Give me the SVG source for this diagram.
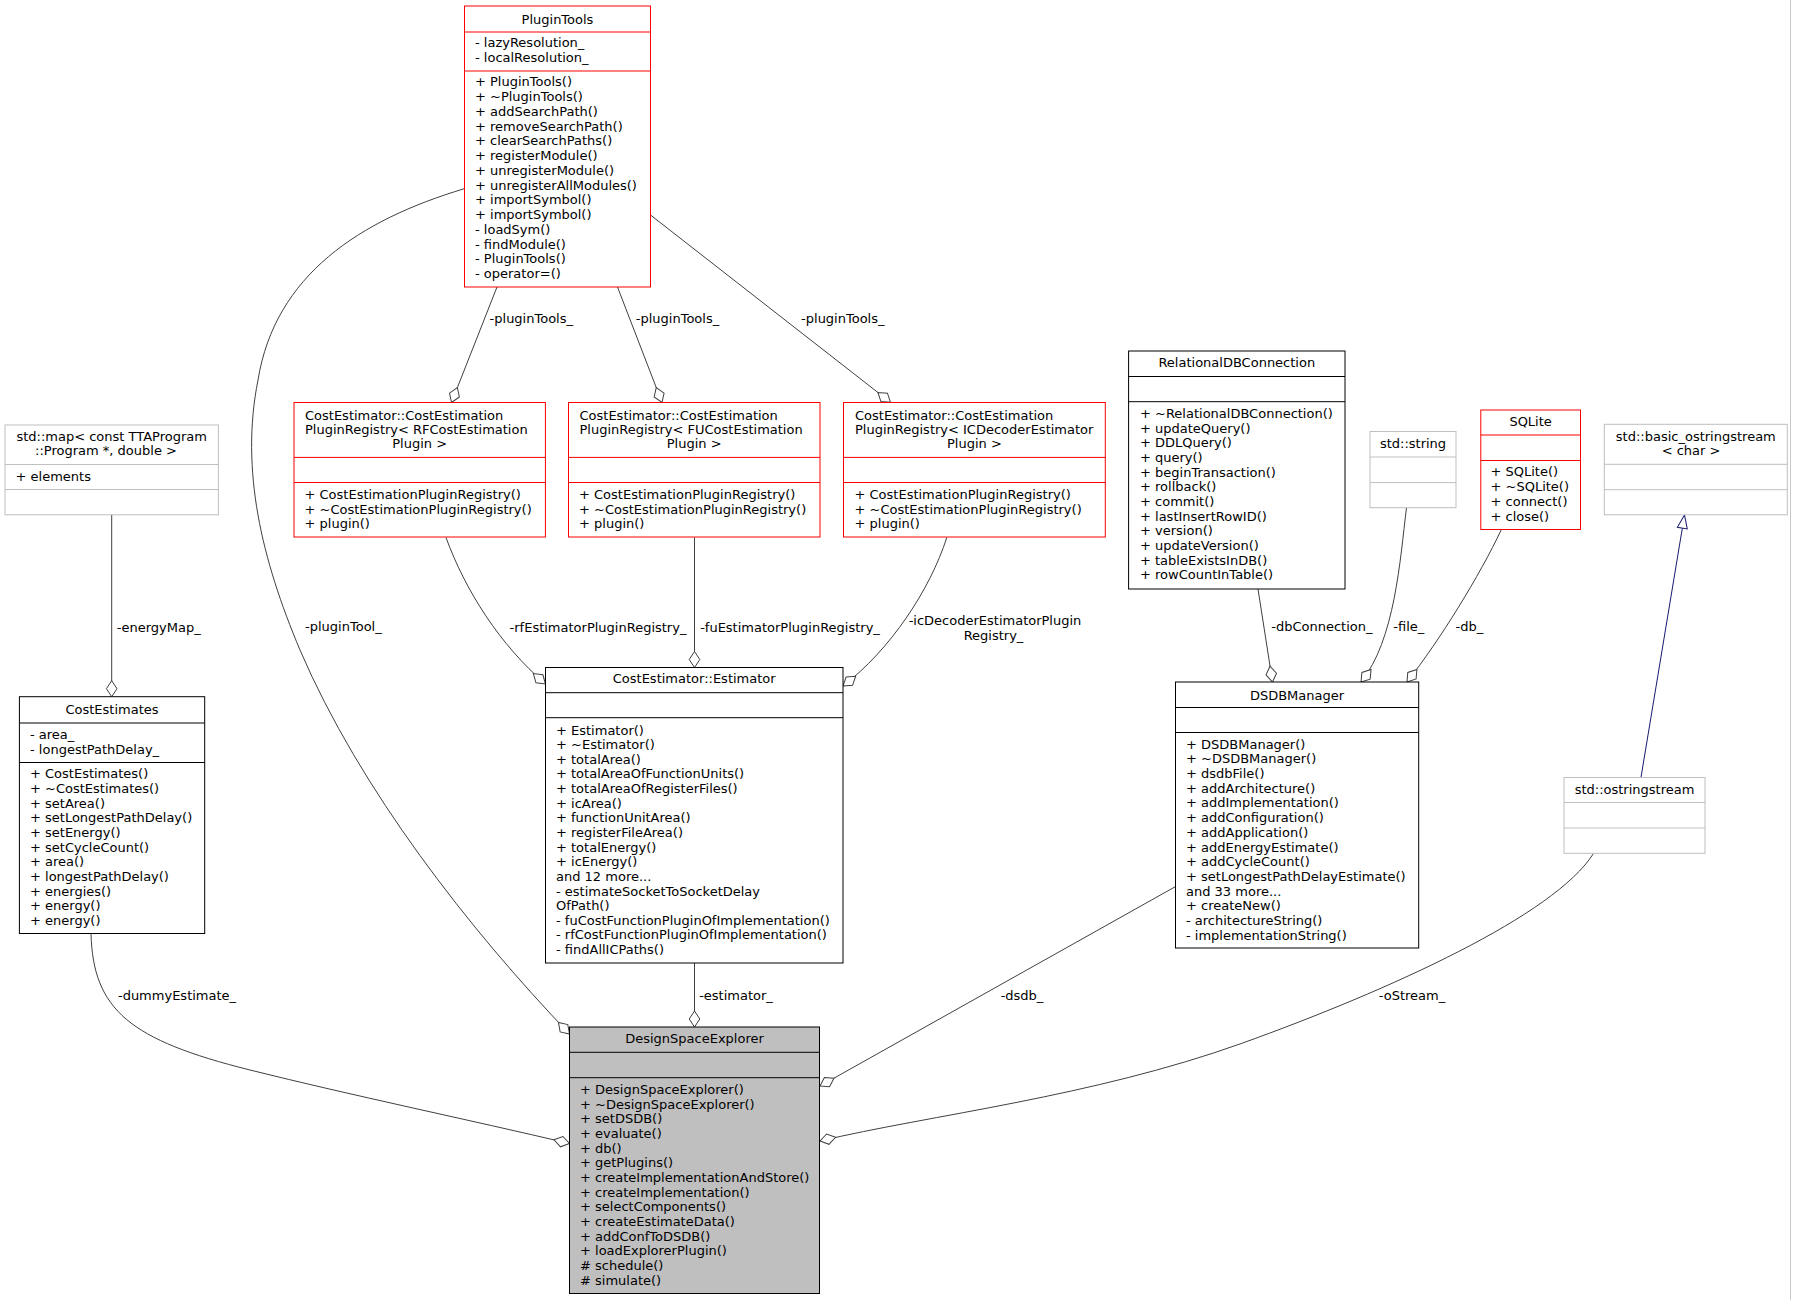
<svg xmlns="http://www.w3.org/2000/svg" width="1793" height="1300" viewBox="0 0 1793 1300">
<style>
text{font-family:"DejaVu Sans","Liberation Sans",sans-serif;font-size:13px;fill:#000}
.c{text-anchor:middle}
.b{fill:#fff;stroke:#000;stroke-width:1}
.r{stroke:#ff0000}
.g{stroke:#bfbfbf}
.d{fill:#bfbfbf}
.sk{stroke:#000;stroke-width:1}
.sr{stroke:#ff0000;stroke-width:1}
.sg{stroke:#bfbfbf;stroke-width:1}
.e{fill:none;stroke:#404040;stroke-width:1}
.i{fill:none;stroke:#191970;stroke-width:1}
</style>
<defs>
<marker id="dia" markerUnits="userSpaceOnUse" markerWidth="20" markerHeight="14" viewBox="-17 -7 18 14" refX="0" refY="0" orient="auto">
<path d="M0,0 L-8,-5.3 L-16,0 L-8,5.3 Z" fill="#fff" stroke="#404040" stroke-width="1"/>
</marker>
<marker id="tri" markerUnits="userSpaceOnUse" markerWidth="16" markerHeight="14" viewBox="-15 -7 16 14" refX="0" refY="0" orient="auto">
<path d="M0,0 L-13.3,-5 L-13.3,5 Z" fill="#fff" stroke="#191970" stroke-width="1"/>
</marker>
</defs>
<rect width="1793" height="1300" fill="#fff"/>
<line x1="1790.5" y1="0" x2="1790.5" y2="1300" stroke="#c8c8c8" stroke-width="1"/>

<g id="connectors">
<path class="e" d="M464.3,188.7 C360,220 275,275 258,380 C240,470 262,560 300,650 C360,790 470,930 569.5,1034" marker-end="url(#dia)"/>
<path class="e" d="M497,287 L451.5,402.5" marker-end="url(#dia)"/>
<path class="e" d="M617.5,287 L662,402.5" marker-end="url(#dia)"/>
<path class="e" d="M650.5,215 L890.5,402.3" marker-end="url(#dia)"/>
<path class="e" d="M446,537.5 C465,590 500,645 545.5,684" marker-end="url(#dia)"/>
<path class="e" d="M694.5,537.5 L694.5,667.5" marker-end="url(#dia)"/>
<path class="e" d="M946.8,537.5 C930,590 890,650 843,686" marker-end="url(#dia)"/>
<path class="e" d="M111.7,514.8 L111.7,696.7" marker-end="url(#dia)"/>
<path class="e" d="M1258,589 L1272.5,682" marker-end="url(#dia)"/>
<path class="e" d="M1406.5,507.7 C1400,560 1395,640 1361,682" marker-end="url(#dia)"/>
<path class="e" d="M1501.4,529.5 C1480,575 1440,640 1407,682" marker-end="url(#dia)"/>
<path class="i" d="M1641,777.3 L1684.5,515" marker-end="url(#tri)"/>
<path class="e" d="M91,933.5 C93,1010 130,1040 250,1070 C350,1095 470,1120 569.5,1143.5" marker-end="url(#dia)"/>
<path class="e" d="M694.5,963 L694.5,1027" marker-end="url(#dia)"/>
<path class="e" d="M1176.5,886 L820,1086" marker-end="url(#dia)"/>
<path class="e" d="M1593.6,853.3 C1555,915 1390,990 1241.9,1043.3 C1092,1097 930,1115 820,1141" marker-end="url(#dia)"/>
<text class="c" x="531.3" y="322.6">-pluginTools_</text>
<text class="c" x="677.5" y="322.6">-pluginTools_</text>
<text class="c" x="842.8" y="322.6">-pluginTools_</text>
<text class="c" x="343.4" y="631">-pluginTool_</text>
<text class="c" x="158.8" y="631.6">-energyMap_</text>
<text class="c" x="598" y="631.9">-rfEstimatorPluginRegistry_</text>
<text class="c" x="790" y="631.9">-fuEstimatorPluginRegistry_</text>
<text class="c" x="995" y="624.6">-icDecoderEstimatorPlugin</text>
<text class="c" x="993.5" y="639.6">Registry_</text>
<text class="c" x="1321.9" y="631.2">-dbConnection_</text>
<text class="c" x="1408.8" y="631.2">-file_</text>
<text class="c" x="1469.4" y="631.2">-db_</text>
<text class="c" x="177" y="999.6">-dummyEstimate_</text>
<text class="c" x="736" y="999.6">-estimator_</text>
<text class="c" x="1022" y="999.6">-dsdb_</text>
<text class="c" x="1412" y="999.6">-oStream_</text>
</g>

<g id="PluginTools">
<rect class="b r" x="464.5" y="6" width="186" height="281"/>
<line class="sr" x1="464.5" y1="32" x2="650.5" y2="32"/>
<line class="sr" x1="464.5" y1="71" x2="650.5" y2="71"/>
<text class="c" x="557.5" y="23.5">PluginTools</text>
<text x="475" y="47.3">- lazyResolution_</text>
<text x="475" y="62">- localResolution_</text>
<text x="475" y="86.3">+ PluginTools()<tspan x="475" dy="14.75">+ ~PluginTools()</tspan><tspan x="475" dy="14.75">+ addSearchPath()</tspan><tspan x="475" dy="14.75">+ removeSearchPath()</tspan><tspan x="475" dy="14.75">+ clearSearchPaths()</tspan><tspan x="475" dy="14.75">+ registerModule()</tspan><tspan x="475" dy="14.75">+ unregisterModule()</tspan><tspan x="475" dy="14.75">+ unregisterAllModules()</tspan><tspan x="475" dy="14.75">+ importSymbol()</tspan><tspan x="475" dy="14.75">+ importSymbol()</tspan><tspan x="475" dy="14.75">- loadSym()</tspan><tspan x="475" dy="14.75">- findModule()</tspan><tspan x="475" dy="14.75">- PluginTools()</tspan><tspan x="475" dy="14.75">- operator=()</tspan></text>
</g>

<g id="StdMap">
<rect class="b g" x="5" y="425" width="213.4" height="89.8"/>
<line class="sg" x1="5" y1="464.5" x2="218.4" y2="464.5"/>
<line class="sg" x1="5" y1="489.5" x2="218.4" y2="489.5"/>
<text class="c" x="111.7" y="440.5">std::map&lt; const TTAProgram</text>
<text class="c" x="106" y="455">::Program *, double &gt;</text>
<text x="15.5" y="480.6">+ elements</text>
</g>

<g id="CostEstimates">
<rect class="b" x="19.4" y="696.7" width="185.3" height="236.8"/>
<line class="sk" x1="19.4" y1="723" x2="204.7" y2="723"/>
<line class="sk" x1="19.4" y1="762.5" x2="204.7" y2="762.5"/>
<text class="c" x="112" y="714">CostEstimates</text>
<text x="30" y="738.7">- area_</text>
<text x="30" y="754.3">- longestPathDelay_</text>
<text x="30" y="778.4">+ CostEstimates()<tspan x="30" dy="14.65">+ ~CostEstimates()</tspan><tspan x="30" dy="14.65">+ setArea()</tspan><tspan x="30" dy="14.65">+ setLongestPathDelay()</tspan><tspan x="30" dy="14.65">+ setEnergy()</tspan><tspan x="30" dy="14.65">+ setCycleCount()</tspan><tspan x="30" dy="14.65">+ area()</tspan><tspan x="30" dy="14.65">+ longestPathDelay()</tspan><tspan x="30" dy="14.65">+ energies()</tspan><tspan x="30" dy="14.65">+ energy()</tspan><tspan x="30" dy="14.65">+ energy()</tspan></text>
</g>

<g id="RFRegistry">
<rect class="b r" x="294" y="402.5" width="251.4" height="134.5"/>
<line class="sr" x1="294" y1="457.4" x2="545.4" y2="457.4"/>
<line class="sr" x1="294" y1="482.5" x2="545.4" y2="482.5"/>
<text x="305" y="419.5">CostEstimator::CostEstimation</text>
<text x="305" y="433.8">PluginRegistry&lt; RFCostEstimation</text>
<text class="c" x="419.7" y="448">Plugin &gt;</text>
<text x="304.5" y="499">+ CostEstimationPluginRegistry()<tspan x="304.5" dy="14.6">+ ~CostEstimationPluginRegistry()</tspan><tspan x="304.5" dy="14.6">+ plugin()</tspan></text>
</g>

<g id="FURegistry">
<rect class="b r" x="568.5" y="402.5" width="251.5" height="134.5"/>
<line class="sr" x1="568.5" y1="457.4" x2="820" y2="457.4"/>
<line class="sr" x1="568.5" y1="482.5" x2="820" y2="482.5"/>
<text x="579.5" y="419.5">CostEstimator::CostEstimation</text>
<text x="579.5" y="433.8">PluginRegistry&lt; FUCostEstimation</text>
<text class="c" x="694.2" y="448">Plugin &gt;</text>
<text x="579" y="499">+ CostEstimationPluginRegistry()<tspan x="579" dy="14.6">+ ~CostEstimationPluginRegistry()</tspan><tspan x="579" dy="14.6">+ plugin()</tspan></text>
</g>

<g id="ICRegistry">
<rect class="b r" x="843.5" y="402.5" width="261.8" height="134.5"/>
<line class="sr" x1="843.5" y1="457.4" x2="1105.3" y2="457.4"/>
<line class="sr" x1="843.5" y1="482.5" x2="1105.3" y2="482.5"/>
<text x="855" y="419.5">CostEstimator::CostEstimation</text>
<text x="855" y="433.8">PluginRegistry&lt; ICDecoderEstimator</text>
<text class="c" x="974.4" y="448">Plugin &gt;</text>
<text x="854.5" y="499">+ CostEstimationPluginRegistry()<tspan x="854.5" dy="14.6">+ ~CostEstimationPluginRegistry()</tspan><tspan x="854.5" dy="14.6">+ plugin()</tspan></text>
</g>

<g id="RelationalDBConnection">
<rect class="b" x="1128.6" y="351" width="216.4" height="238"/>
<line class="sk" x1="1128.6" y1="376.5" x2="1345" y2="376.5"/>
<line class="sk" x1="1128.6" y1="401.7" x2="1345" y2="401.7"/>
<text class="c" x="1236.8" y="367">RelationalDBConnection</text>
<text x="1140" y="418">+ ~RelationalDBConnection()<tspan x="1140" dy="14.67">+ updateQuery()</tspan><tspan x="1140" dy="14.67">+ DDLQuery()</tspan><tspan x="1140" dy="14.67">+ query()</tspan><tspan x="1140" dy="14.67">+ beginTransaction()</tspan><tspan x="1140" dy="14.67">+ rollback()</tspan><tspan x="1140" dy="14.67">+ commit()</tspan><tspan x="1140" dy="14.67">+ lastInsertRowID()</tspan><tspan x="1140" dy="14.67">+ version()</tspan><tspan x="1140" dy="14.67">+ updateVersion()</tspan><tspan x="1140" dy="14.67">+ tableExistsInDB()</tspan><tspan x="1140" dy="14.67">+ rowCountInTable()</tspan></text>
</g>

<g id="StdString">
<rect class="b g" x="1370" y="431.5" width="86" height="76.2"/>
<line class="sg" x1="1370" y1="457" x2="1456" y2="457"/>
<line class="sg" x1="1370" y1="482.6" x2="1456" y2="482.6"/>
<text class="c" x="1413" y="448">std::string</text>
</g>

<g id="SQLite">
<rect class="b r" x="1480.8" y="410" width="99.7" height="119.5"/>
<line class="sr" x1="1480.8" y1="435" x2="1580.5" y2="435"/>
<line class="sr" x1="1480.8" y1="460.5" x2="1580.5" y2="460.5"/>
<text class="c" x="1530.6" y="426.3">SQLite</text>
<text x="1490.5" y="476.3">+ SQLite()<tspan x="1490.5" dy="14.75">+ ~SQLite()</tspan><tspan x="1490.5" dy="14.75">+ connect()</tspan><tspan x="1490.5" dy="14.75">+ close()</tspan></text>
</g>

<g id="BasicOstringstream">
<rect class="b g" x="1604.3" y="424.3" width="183" height="90.5"/>
<line class="sg" x1="1604.3" y1="464.3" x2="1787.3" y2="464.3"/>
<line class="sg" x1="1604.3" y1="489.7" x2="1787.3" y2="489.7"/>
<text class="c" x="1695.8" y="440.6">std::basic_ostringstream</text>
<text class="c" x="1691" y="455.3">&lt; char &gt;</text>
</g>

<g id="Estimator">
<rect class="b" x="545.5" y="667.5" width="297.5" height="295.5"/>
<line class="sk" x1="545.5" y1="692.7" x2="843" y2="692.7"/>
<line class="sk" x1="545.5" y1="717.7" x2="843" y2="717.7"/>
<text class="c" x="694.2" y="683">CostEstimator::Estimator</text>
<text x="556" y="734.6">+ Estimator()<tspan x="556" dy="14.63">+ ~Estimator()</tspan><tspan x="556" dy="14.63">+ totalArea()</tspan><tspan x="556" dy="14.63">+ totalAreaOfFunctionUnits()</tspan><tspan x="556" dy="14.63">+ totalAreaOfRegisterFiles()</tspan><tspan x="556" dy="14.63">+ icArea()</tspan><tspan x="556" dy="14.63">+ functionUnitArea()</tspan><tspan x="556" dy="14.63">+ registerFileArea()</tspan><tspan x="556" dy="14.63">+ totalEnergy()</tspan><tspan x="556" dy="14.63">+ icEnergy()</tspan><tspan x="556" dy="14.63">and 12 more...</tspan><tspan x="556" dy="14.63">- estimateSocketToSocketDelay</tspan><tspan x="556" dy="14.63">OfPath()</tspan><tspan x="556" dy="14.63">- fuCostFunctionPluginOfImplementation()</tspan><tspan x="556" dy="14.63">- rfCostFunctionPluginOfImplementation()</tspan><tspan x="556" dy="14.63">- findAllICPaths()</tspan></text>
</g>

<g id="DSDBManager">
<rect class="b" x="1175.5" y="682" width="243.2" height="266"/>
<line class="sk" x1="1175.5" y1="707.5" x2="1418.7" y2="707.5"/>
<line class="sk" x1="1175.5" y1="732.5" x2="1418.7" y2="732.5"/>
<text class="c" x="1297" y="699.5">DSDBManager</text>
<text x="1186" y="748.6">+ DSDBManager()<tspan x="1186" dy="14.7">+ ~DSDBManager()</tspan><tspan x="1186" dy="14.7">+ dsdbFile()</tspan><tspan x="1186" dy="14.7">+ addArchitecture()</tspan><tspan x="1186" dy="14.7">+ addImplementation()</tspan><tspan x="1186" dy="14.7">+ addConfiguration()</tspan><tspan x="1186" dy="14.7">+ addApplication()</tspan><tspan x="1186" dy="14.7">+ addEnergyEstimate()</tspan><tspan x="1186" dy="14.7">+ addCycleCount()</tspan><tspan x="1186" dy="14.7">+ setLongestPathDelayEstimate()</tspan><tspan x="1186" dy="14.7">and 33 more...</tspan><tspan x="1186" dy="14.7">+ createNew()</tspan><tspan x="1186" dy="14.7">- architectureString()</tspan><tspan x="1186" dy="14.7">- implementationString()</tspan></text>
</g>

<g id="Ostringstream">
<rect class="b g" x="1564" y="777.5" width="141" height="75.8"/>
<line class="sg" x1="1564" y1="802.5" x2="1705" y2="802.5"/>
<line class="sg" x1="1564" y1="828" x2="1705" y2="828"/>
<text class="c" x="1634.5" y="793.6">std::ostringstream</text>
</g>

<g id="DesignSpaceExplorer">
<rect class="b d" x="569.5" y="1027" width="250" height="266.5"/>
<line class="sk" x1="569.5" y1="1052.3" x2="819.5" y2="1052.3"/>
<line class="sk" x1="569.5" y1="1077.7" x2="819.5" y2="1077.7"/>
<text class="c" x="694.5" y="1043">DesignSpaceExplorer</text>
<text x="580" y="1094">+ DesignSpaceExplorer()<tspan x="580" dy="14.67">+ ~DesignSpaceExplorer()</tspan><tspan x="580" dy="14.67">+ setDSDB()</tspan><tspan x="580" dy="14.67">+ evaluate()</tspan><tspan x="580" dy="14.67">+ db()</tspan><tspan x="580" dy="14.67">+ getPlugins()</tspan><tspan x="580" dy="14.67">+ createImplementationAndStore()</tspan><tspan x="580" dy="14.67">+ createImplementation()</tspan><tspan x="580" dy="14.67">+ selectComponents()</tspan><tspan x="580" dy="14.67">+ createEstimateData()</tspan><tspan x="580" dy="14.67">+ addConfToDSDB()</tspan><tspan x="580" dy="14.67">+ loadExplorerPlugin()</tspan><tspan x="580" dy="14.67"># schedule()</tspan><tspan x="580" dy="14.67"># simulate()</tspan></text>
</g>
</svg>
